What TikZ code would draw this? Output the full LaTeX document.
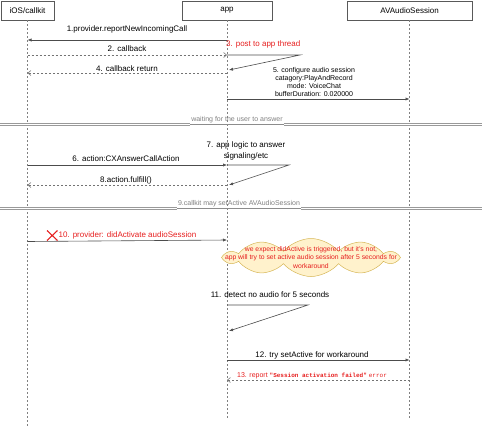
\documentclass[tikz,border=0pt]{standalone}
\usepackage{fontspec}
\setmainfont{Liberation Sans}
\setmonofont{Liberation Mono}
\usetikzlibrary{arrows.meta,calc,shapes.symbols}

\definecolor{msgred}{RGB}{230,30,30}
\definecolor{cloudfill}{RGB}{255,242,204}
\definecolor{cloudline}{RGB}{214,182,86}

\begin{document}
\begin{tikzpicture}[x=1pt,y=-1pt,
  font=\fontsize{8}{9.5}\selectfont,
  box/.style={draw=black!65, fill=white, minimum height=19pt, inner sep=0pt},
  life/.style={draw=black!50, line width=.5pt, dash pattern=on 2pt off 2pt},
  msg/.style={draw=black!70, line width=.6pt, -{Latex[length=4pt,width=3.2pt]}},
  ret/.style={draw=black!55, line width=.6pt, dash pattern=on 2pt off 2pt,
    -{Straight Barb[length=3pt,width=5pt]}},
  lbl/.style={inner sep=0pt},
  redlbl/.style={inner sep=0pt, text=msgred},
  sep/.style={draw=black!40, line width=.5pt, double, double distance=1.2pt},
  septxt/.style={text=black!50, inner sep=1pt, font=\fontsize{7}{8}\selectfont},
]

% ---------- Parameter (Lebenslinien) ----------
\def\xios{27.5}
\def\xapp{227}
\def\xavs{409.5}
\def\yend{420}

\useasboundingbox (0,0) rectangle (482,426);

% ===================
% Köpfe und Lebenslinien
% ===================
\node[box, minimum width=53pt]  (ios) at (\xios,10.5) {iOS/callkit};
\node[box, minimum width=90pt]  (app) at (\xapp,10.5) {app};
\node[box, minimum width=125pt] (avs) at (\xavs,10.5) {AVAudioSession};

\coordinate (iosend) at (\xios,426);
\coordinate (append) at (\xapp,\yend);
\coordinate (avsend) at (\xavs,\yend);

\draw[life] (ios.south) -- (iosend);
\draw[life] (app.south) -- (append);
\draw[life] (avs.south) -- (avsend);

% ===================
% 1. - 5.
% ===================
\coordinate (m1a) at (\xapp,40);  \coordinate (m1b) at (\xios,40);
\coordinate (m2a) at (\xios,55);  \coordinate (m2b) at (\xapp,55);
\coordinate (s3a) at (\xapp,55);  \coordinate (s3b) at (300,55);
\coordinate (s3c) at (229,70);
\coordinate (m4a) at (\xapp,73);  \coordinate (m4b) at (\xios,73);
\coordinate (m5a) at (\xapp,99);  \coordinate (m5b) at (\xavs,99);

\draw[msg] (m1a) -- (m1b);
\node[lbl] (l1) at (127,29) {1.provider.reportNewIncomingCall};

\draw[ret] (m2a) -- (m2b);
\node[lbl] (l2) at (127,49) {2. callback};

\draw[msg] (s3a) -- (s3b) -- (s3c);
\node[redlbl, anchor=west] (l3) at (226,44) {3. post to app thread};

\draw[ret] (m4a) -- (m4b);
\node[lbl] (l4) at (127,68.5) {4. callback return};

\draw[msg] (m5a) -- (m5b);
\node[lbl, align=center, font=\fontsize{7}{8}\selectfont] (l5) at (314,82)
  {5. configure audio session\\catagory:PlayAndRecord\\mode: VoiceChat\\bufferDuration: 0.020000};

% ---------- Trenner 1 ----------
\coordinate (w1l) at (0,124.5);
\coordinate (w1r) at (482,124.5);
\node[septxt, anchor=south] (wait) at (237,124.5) {waiting for the user to answer};
\draw[sep] (w1l) -- (wait.south west);
\draw[sep] (wait.south east) -- (w1r);
\draw[black!45, line width=.5pt] (wait.south west) -- (wait.south east);

% ===================
% 6. - 8.
% ===================
\coordinate (m6a) at (\xios,165); \coordinate (m6b) at (\xapp,165);
\coordinate (s7a) at (\xapp,165); \coordinate (s7b) at (289,165);
\coordinate (s7c) at (229,185);
\coordinate (m8a) at (\xapp,185); \coordinate (m8b) at (\xios,185);

\draw[msg] (m6a) -- (m6b);
\node[lbl] (l6) at (126,159) {6. action:CXAnswerCallAction};

\draw[msg] (s7a) -- (s7b) -- (s7c);
\node[lbl, align=center, font=\fontsize{8}{11}\selectfont] (l7) at (246,150.5)
  {7. app logic to answer\\signaling/etc};

\draw[ret] (m8a) -- (m8b);
\node[lbl] (l8) at (126,180) {8.action.fulfill()};

% ---------- Trenner 2 ----------
\coordinate (w2l) at (0,208.5);
\coordinate (w2r) at (482,208.5);
\node[septxt, anchor=south] (maybe) at (239,208.5) {9.callkit may setActive AVAudioSession};
\draw[sep] (w2l) -- (maybe.south west);
\draw[sep] (maybe.south east) -- (w2r);
\draw[black!45, line width=.5pt] (maybe.south west) -- (maybe.south east);

% ===================
% 10. - 13.
% ===================
\coordinate (m10a) at (\xios,241.5); \coordinate (m10b) at (\xapp,240);

\draw[msg] (m10a) -- (m10b);
\draw[msgred, line width=1.1pt] (47,230.5) -- (57.5,240.5) (47,240.5) -- (57.5,230.5);
\node[redlbl, anchor=west] (l10) at (58.5,235) {10. provider: didActivate audioSession};

% Wolke
\node[cloud, cloud puffs=10, cloud puff arc=100, aspect=4.2, draw=cloudline,
  fill=cloudfill, line width=.5pt, minimum width=172pt, minimum height=38pt,
  inner sep=0pt] (cloud) at (311,257.5) {};
\node[redlbl, align=center, font=\fontsize{6.8}{8.5}\selectfont] (cloudtxt) at (cloud.center)
  {we expect didActive is triggered, but it's not,\\app will try to set active audio session after 5 seconds for\\workaround};

\coordinate (s11a) at (\xapp,305); \coordinate (s11b) at (308,305);
\coordinate (s11c) at (229,331);
\coordinate (m12a) at (\xapp,360); \coordinate (m12b) at (\xavs,360);
\coordinate (m13a) at (\xavs,380); \coordinate (m13b) at (\xapp,380);

\draw[msg] (s11a) -- (s11b) -- (s11c);
\node[lbl] (l11) at (270,295) {11. detect no audio for 5 seconds};

\draw[msg] (m12a) -- (m12b);
\node[lbl] (l12) at (312,355) {12. try setActive for workaround};

\draw[ret] (m13a) -- (m13b);
\node[redlbl, font=\fontsize{7}{8}\selectfont] (l13) at (312,376)
  {13. report {\fontsize{6}{7}\selectfont\ttfamily\bfseries "Session activation failed"} {\fontsize{6}{7}\selectfont\ttfamily error}};

\end{tikzpicture}
\end{document}
